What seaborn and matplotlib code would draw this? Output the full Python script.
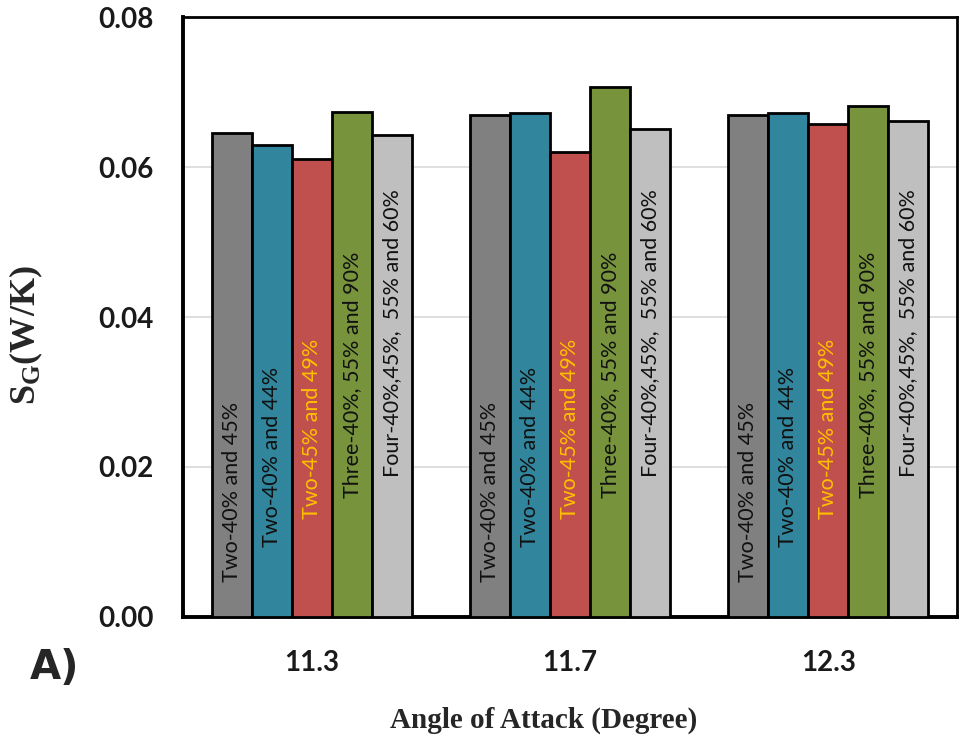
import numpy as np
import pandas as pd
import matplotlib
matplotlib.use("Agg")
import matplotlib.pyplot as plt
import seaborn as sns
from matplotlib.ticker import MultipleLocator

# data
angles = ["11.3", "11.7", "12.3"]
configs = ["Two-40% and 45%", "Two-40% and 44%", "Two-45% and 49%",
           "Three-40%, 55% and 90%", "Four-40%,45%,  55% and 60%"]
sg_two_40_45 = [0.0646, 0.0670, 0.0670]
sg_two_40_44 = [0.0629, 0.0672, 0.0672]
sg_two_45_49 = [0.0611, 0.0620, 0.0658]
sg_three = [0.0673, 0.0707, 0.0681]
sg_four = [0.0643, 0.0651, 0.0661]

colors = ["#808080", "#31859C", "#C0504D", "#77933C", "#BFBFBF"]
label_colors = ["#111111", "#111111", "#FFC000", "#111111", "#111111"]
label_base = [0.0047, 0.0093, 0.0130, 0.0159, 0.0187]  # where each in-bar label starts

series = [sg_two_40_45, sg_two_40_44, sg_two_45_49, sg_three, sg_four]
df = pd.DataFrame({
    "angle": np.repeat([angles], len(configs), axis=0).ravel(),
    "config": np.repeat(configs, len(angles)),
    "sg": np.concatenate(series),
})

sns.set_style("white")
plt.rcParams["mathtext.fontset"] = "custom"
plt.rcParams["mathtext.rm"] = "Liberation Serif:bold"
plt.rcParams["mathtext.it"] = "Liberation Serif:bold"
plt.rcParams["mathtext.bf"] = "Liberation Serif:bold"

fig = plt.figure(figsize=(9.64, 7.46), dpi=100)
ax = fig.add_axes([0.190, 0.173, 0.803, 0.804])

sns.barplot(data=df, x="angle", y="sg", hue="config", hue_order=configs,
            order=angles, palette=colors, saturation=1, width=0.775,
            edgecolor="black", linewidth=2.0, legend=False, ax=ax, zorder=3)

# vertical labels inside the bars
for i, cont in enumerate(ax.containers):
    for bar in cont:
        ax.text(bar.get_x() + bar.get_width() / 2, label_base[i], configs[i],
                rotation=90, ha="center", va="bottom", fontsize=15.5,
                family="Lato", color=label_colors[i], zorder=4)

ax.set_xlim(-0.5, 2.5)
ax.set_ylim(0, 0.08)
ax.yaxis.set_major_locator(MultipleLocator(0.02))
ax.yaxis.set_minor_locator(MultipleLocator(0.01))
ax.yaxis.set_major_formatter(matplotlib.ticker.FormatStrFormatter("%.2f"))
ax.grid(axis="y", color="#d9d9d9", linewidth=1.2, zorder=0)
ax.set_axisbelow(True)

ax.tick_params(axis="y", which="both", direction="inout", length=14, width=2.2,
               color="black", pad=14)
ax.tick_params(axis="x", length=0, pad=24)
for lab in ax.get_yticklabels() + ax.get_xticklabels():
    lab.set_fontfamily("Lato")
    lab.set_fontweight("bold")
    lab.set_fontsize(20)
    lab.set_color("#1a1a1a")

for side in ["left", "bottom"]:
    ax.spines[side].set_linewidth(2.8)
    ax.spines[side].set_color("black")
for side in ["top", "right"]:
    ax.spines[side].set_visible(True)
    ax.spines[side].set_linewidth(2.0)
    ax.spines[side].set_color("black")

ax.set_xlabel("Angle of Attack (Degree)", family="Liberation Serif",
              fontweight="bold", fontsize=21)
ax.xaxis.set_label_coords(0.466, -0.15)
ax.set_ylabel("S$_{G}$(W/K)", family="Liberation Serif", fontweight="bold",
              fontsize=26)
ax.yaxis.set_label_coords(-0.178, 0.47)

fig.text(0.031, 0.105, "A)", family="DejaVu Sans", fontweight="bold",
         fontsize=29, ha="left", va="center")

fig.savefig("out.png", dpi=100)
